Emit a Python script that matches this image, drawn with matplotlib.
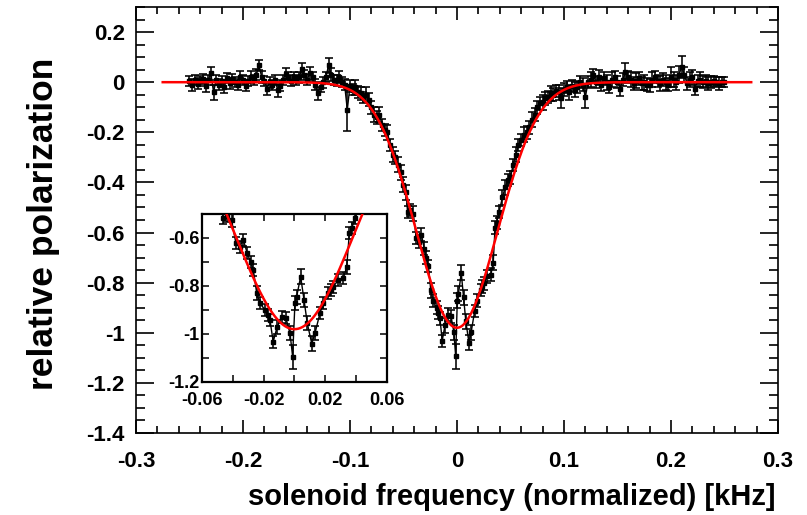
import numpy as np
import matplotlib
matplotlib.use('Agg')
import matplotlib.pyplot as plt
from matplotlib.ticker import MultipleLocator, FixedLocator, FuncFormatter

plt.rcParams['font.family'] = ['Liberation Sans', 'DejaVu Sans']
plt.rcParams['font.weight'] = 'bold'
plt.rcParams['axes.unicode_minus'] = False

# measured points: solenoid frequency [kHz], relative polarization, error
freq = [
    -0.25, -0.2475, -0.245, -0.2425, -0.24, -0.2375, -0.235, -0.2325, -0.23, -0.2275,
    -0.225, -0.2225, -0.22, -0.2175, -0.215, -0.2125, -0.21, -0.2075, -0.205, -0.2025,
    -0.2, -0.1975, -0.195, -0.1925, -0.19, -0.1875, -0.185, -0.1825, -0.18, -0.1775,
    -0.175, -0.1725, -0.17, -0.1675, -0.165, -0.1625, -0.16, -0.1575, -0.155, -0.1525,
    -0.15, -0.1475, -0.145, -0.1425, -0.14, -0.1375, -0.135, -0.1325, -0.13, -0.1275,
    -0.125, -0.1225, -0.12, -0.1175, -0.115, -0.1125, -0.11, -0.1075, -0.105, -0.1025,
    -0.1, -0.0975, -0.095, -0.0925, -0.09, -0.0875, -0.085, -0.0825, -0.08, -0.0775,
    -0.075, -0.0725, -0.07, -0.0675, -0.065, -0.0625, -0.06, -0.0575, -0.055, -0.0525,
    -0.05, -0.0475, -0.0462, -0.0435, -0.0408, -0.038, -0.0354, -0.0332, -0.0306, -0.0285,
    -0.0267, -0.0245, -0.0224, -0.0191, -0.0175, -0.0159, -0.0138, -0.0112, -0.0083, -0.0055,
    -0.0029, -0.0012, 0.0003, 0.0014, 0.004, 0.0062, 0.0083, 0.0112, 0.0133, 0.0165,
    0.0187, 0.022, 0.0235, 0.0252, 0.0284, 0.0317, 0.0339, 0.0356, 0.0371, 0.0393,
    0.0425, 0.045, 0.0475, 0.05, 0.0525, 0.055, 0.0575, 0.06, 0.0625, 0.065,
    0.0675, 0.07, 0.0725, 0.075, 0.0775, 0.08, 0.0825, 0.085, 0.0875, 0.09,
    0.0925, 0.095, 0.0975, 0.1, 0.1025, 0.105, 0.1075, 0.11, 0.1125, 0.115,
    0.1175, 0.12, 0.1225, 0.125, 0.1275, 0.13, 0.1325, 0.135, 0.1375, 0.14,
    0.1425, 0.145, 0.1475, 0.15, 0.1525, 0.155, 0.1575, 0.16, 0.1625, 0.165,
    0.1675, 0.17, 0.1725, 0.175, 0.1775, 0.18, 0.1825, 0.185, 0.1875, 0.19,
    0.1925, 0.195, 0.1975, 0.2, 0.2025, 0.205, 0.2075, 0.21, 0.2125, 0.215,
    0.2175, 0.22, 0.2225, 0.225, 0.2275, 0.23, 0.2325, 0.235, 0.2375, 0.24,
    0.2425, 0.245, 0.2475, 0.25,
]

pol = [
    0.005, -0.012, 0.01, -0.006, 0.003, 0.012, -0.015, 0.008, 0.035, -0.04,
    0.01, -0.01, 0.005, -0.02, 0.015, -0.005, 0.012, 0.0, -0.01, 0.02,
    0.01, -0.015, 0.005, 0.02, 0.01, 0.03, 0.067, 0.02, 0.005, -0.026,
    0.0, -0.01, 0.01, -0.033, -0.015, 0.01, 0.033, 0.02, 0.005, 0.02,
    0.01, 0.02, 0.053, 0.03, 0.01, 0.035, 0.02, -0.01, -0.045, -0.02,
    0.0, 0.02, 0.067, 0.03, 0.01, 0.007, 0.02, 0.0, -0.01, -0.11,
    -0.015, -0.03, -0.02, -0.04, -0.045, -0.06, -0.05, -0.07, -0.10, -0.13,
    -0.14, -0.13, -0.17, -0.19, -0.20, -0.25, -0.29, -0.30, -0.33, -0.36,
    -0.41, -0.44, -0.518, -0.51, -0.525, -0.622, -0.636, -0.608, -0.664, -0.70,
    -0.733, -0.83, -0.872, -0.90, -0.92, -0.942, -1.032, -0.97, -0.928, -0.935,
    -0.997, -1.094, -0.872, -0.845, -0.761, -0.858, -0.955, -1.04, -0.997, -0.914,
    -0.872, -0.83, -0.815, -0.803, -0.775, -0.768, -0.72, -0.58, -0.56, -0.518,
    -0.46, -0.42, -0.39, -0.38, -0.33, -0.29, -0.25, -0.23, -0.21, -0.20,
    -0.18, -0.15, -0.13, -0.10, -0.085, -0.08, -0.065, -0.06, -0.045, -0.05,
    -0.035, -0.04, -0.065, -0.03, -0.02, -0.04, -0.015, -0.03, -0.02, 0.0,
    -0.01, -0.06, 0.0, 0.01, 0.027, 0.0, 0.02, -0.01, 0.015, 0.0,
    -0.02, 0.01, 0.02, 0.0, -0.026, 0.01, 0.04, 0.02, 0.01, -0.005,
    0.005, 0.015, -0.005, 0.0, -0.01, -0.013, 0.01, 0.02, 0.005, -0.005,
    0.01, 0.0, -0.01, 0.02, 0.01, 0.0, 0.03, 0.06, 0.03, -0.005,
    0.01, 0.02, -0.026, 0.005, 0.01, 0.0, 0.005, -0.005, 0.0, 0.005,
    0.0, -0.005, 0.0, 0.0,
]

pol_err = [
    0.02, 0.025, 0.02, 0.022, 0.02, 0.02, 0.025, 0.02, 0.025, 0.03,
    0.02, 0.022, 0.02, 0.025, 0.02, 0.022, 0.02, 0.02, 0.022, 0.025,
    0.02, 0.022, 0.02, 0.025, 0.02, 0.022, 0.02, 0.025, 0.02, 0.025,
    0.022, 0.02, 0.02, 0.025, 0.022, 0.02, 0.025, 0.02, 0.022, 0.02,
    0.02, 0.022, 0.025, 0.02, 0.022, 0.025, 0.02, 0.022, 0.025, 0.02,
    0.022, 0.02, 0.03, 0.025, 0.02, 0.022, 0.025, 0.02, 0.022, 0.085,
    0.025, 0.022, 0.03, 0.025, 0.025, 0.022, 0.03, 0.025, 0.025, 0.03,
    0.025, 0.03, 0.025, 0.025, 0.03, 0.025, 0.03, 0.025, 0.03, 0.03,
    0.03, 0.03, 0.025, 0.025, 0.03, 0.025, 0.025, 0.025, 0.025, 0.025,
    0.025, 0.03, 0.025, 0.025, 0.025, 0.025, 0.025, 0.03, 0.025, 0.025,
    0.03, 0.05, 0.03, 0.03, 0.03, 0.03, 0.03, 0.03, 0.03, 0.025,
    0.025, 0.025, 0.025, 0.025, 0.025, 0.025, 0.03, 0.025, 0.025, 0.025,
    0.03, 0.03, 0.025, 0.025, 0.025, 0.03, 0.025, 0.025, 0.03, 0.025,
    0.025, 0.03, 0.025, 0.025, 0.025, 0.03, 0.025, 0.025, 0.03, 0.025,
    0.025, 0.03, 0.04, 0.025, 0.025, 0.03, 0.025, 0.03, 0.025, 0.025,
    0.025, 0.045, 0.025, 0.03, 0.025, 0.025, 0.03, 0.025, 0.025, 0.03,
    0.025, 0.03, 0.025, 0.025, 0.03, 0.025, 0.035, 0.025, 0.03, 0.025,
    0.03, 0.025, 0.025, 0.03, 0.025, 0.025, 0.03, 0.025, 0.025, 0.03,
    0.025, 0.03, 0.025, 0.04, 0.03, 0.03, 0.035, 0.045, 0.03, 0.025,
    0.03, 0.03, 0.025, 0.025, 0.03, 0.025, 0.025, 0.025, 0.025, 0.02,
    0.02, 0.025, 0.02, 0.02,
]

# gaussian fit
fit_amp = 0.98
fit_sigma = 0.038
fit_range = (-0.275, 0.275)


def fmt(v, pos):
    v = round(v, 4) + 0.0
    return '{:g}'.format(v)


def draw(ax, ms, cap):
    ax.errorbar(freq, pol, yerr=pol_err, fmt='s-', color='black', ms=ms,
                lw=1.0, elinewidth=1.15, capsize=cap, capthick=1.15, zorder=2)
    xx = np.linspace(fit_range[0], fit_range[1], 800)
    ax.plot(xx, -fit_amp * np.exp(-xx**2 / (2 * fit_sigma**2)),
            color='red', lw=1.8, zorder=3)


fig = plt.figure(figsize=(8.07, 5.15), dpi=100)

ax = fig.add_axes([0.1685, 0.1592, 0.7955, 0.8272])
draw(ax, 3.4, 2.6)
ax.set_xlim(-0.3, 0.3)
ax.set_ylim(-1.4, 0.3)
ax.xaxis.set_major_locator(MultipleLocator(0.1))
ax.xaxis.set_minor_locator(MultipleLocator(0.02))
ax.yaxis.set_major_locator(MultipleLocator(0.2))
ax.yaxis.set_minor_locator(MultipleLocator(0.05))
ax.xaxis.set_major_formatter(FuncFormatter(fmt))
ax.yaxis.set_major_formatter(FuncFormatter(fmt))
ax.tick_params(which='both', direction='in', top=True, right=True, width=1.2)
ax.tick_params(axis='x', which='major', length=9.5, labelsize=16, pad=13)
ax.tick_params(axis='x', which='minor', length=5)
ax.tick_params(axis='y', which='major', length=13, labelsize=16, pad=8)
ax.tick_params(axis='y', which='minor', length=6.5)
for s in ax.spines.values():
    s.set_linewidth(1.2)

fig.text(775 / 807, 1 - 497 / 515, 'solenoid frequency (normalized) [kHz]',
         ha='right', va='center', fontsize=21, fontweight='bold')
fig.text(44 / 807, 1 - 224 / 515, 'relative polarization', rotation=90,
         ha='center', va='center', fontsize=25.5, fontweight='bold')

# inset zoom on the centre
ax2 = fig.add_axes([0.2503, 0.2583, 0.2292, 0.3262])
ax2.set_facecolor('white')
draw(ax2, 3.4, 2.6)
ax2.set_xlim(-0.06, 0.06)
ax2.set_ylim(-1.2, -0.5)
ax2.xaxis.set_major_locator(FixedLocator([-0.06, -0.02, 0.02, 0.06]))
ax2.xaxis.set_minor_locator(FixedLocator([-0.04, 0.0, 0.04]))
ax2.yaxis.set_major_locator(MultipleLocator(0.2))
ax2.yaxis.set_minor_locator(MultipleLocator(0.1))
ax2.xaxis.set_major_formatter(FuncFormatter(fmt))
ax2.yaxis.set_major_formatter(FuncFormatter(fmt))
ax2.tick_params(which='both', direction='in', top=True, right=True, width=1.1,
                length=5, labelsize=13)
ax2.tick_params(axis='x', pad=7)
ax2.tick_params(axis='y', pad=2)
for s in ax2.spines.values():
    s.set_linewidth(1.6)

fig.savefig('out.png', dpi=100)
